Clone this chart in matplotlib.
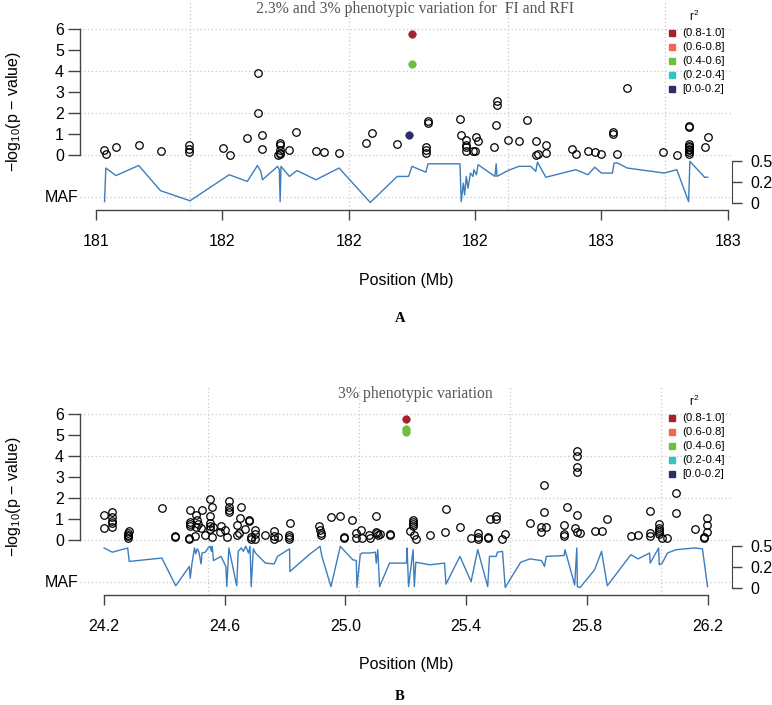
import matplotlib
matplotlib.use("Agg")
import matplotlib.pyplot as plt
from matplotlib.transforms import blended_transform_factory

plt.rcParams['font.family'] = ['Liberation Sans', 'DejaVu Sans']
plt.rcParams['mathtext.fontset'] = 'custom'
plt.rcParams['mathtext.rm'] = 'Liberation Sans'
plt.rcParams['mathtext.it'] = 'Liberation Sans:italic'

# ---------------- Panel A data ----------------
a_title = "2.3% and 3% phenotypic variation for  FI and RFI"
a_pos = [181.419, 181.423, 181.446, 181.501, 181.553,
         181.621, 181.621, 181.621, 181.701, 181.717,
         181.759, 181.785, 181.785, 181.793, 181.795,
         181.831, 181.837, 181.837, 181.837, 181.837, 181.836,
         181.859, 181.874, 181.922, 181.940, 181.977,
         182.041, 182.054, 182.114,
         182.183, 182.183, 182.183, 182.188, 182.188,
         182.265, 182.266, 182.278, 182.278, 182.278, 182.278,
         182.294, 182.299, 182.303, 182.307,
         182.346, 182.350, 182.353, 182.353,
         182.378, 182.405, 182.424, 182.444, 182.444, 182.449,
         182.468, 182.468, 182.531, 182.539, 182.568, 182.584, 182.600,
         182.628, 182.628, 182.637, 182.661, 182.747, 182.779,
         182.809, 182.809, 182.809, 182.809, 182.809, 182.809, 182.809, 182.809, 182.809,
         182.845, 182.852]
a_logp = [0.24, 0.06, 0.37, 0.48, 0.18,
          0.49, 0.27, 0.14, 0.33, 0.00,
          0.79, 3.90, 2.00, 0.94, 0.30,
          0.00, 0.57, 0.50, 0.24, 0.08, 0.03,
          0.22, 1.08, 0.18, 0.14, 0.11,
          0.57, 1.03, 0.52,
          0.37, 0.24, 0.11, 1.62, 1.51,
          1.73, 0.97, 0.71, 0.49, 0.40, 0.17,
          0.21, 0.21, 0.84, 0.67,
          0.37, 1.43, 2.59, 2.37,
          0.71, 0.68, 1.67, 0.68, 0.00, 0.05,
          0.46, 0.08, 0.27, 0.06, 0.21, 0.13, 0.06,
          1.08, 1.00, 0.03, 3.17, 0.13, 0.00,
          1.37, 1.35, 0.51, 0.45, 0.38, 0.30, 0.22, 0.14, 0.06,
          0.37, 0.86]
a_hit_pos = [182.150, 182.150, 182.142]
a_hit_logp = [5.76, 4.32, 0.94]
a_hit_r2 = [0.9, 0.5, 0.1]
a_maf_pos = [181.420, 181.423, 181.447, 181.501, 181.553, 181.623, 181.716, 181.759,
             181.783, 181.791, 181.795, 181.831, 181.835, 181.837, 181.839, 181.859,
             181.877, 181.922, 181.977, 182.051, 182.115, 182.142, 182.150, 182.183,
             182.188, 182.264, 182.267, 182.272, 182.275, 182.279, 182.283, 182.289,
             182.295, 182.297, 182.303, 182.307, 182.347, 182.350, 182.352, 182.378,
             182.404, 182.432, 182.444, 182.448, 182.468, 182.539, 182.568, 182.584,
             182.600, 182.626, 182.630, 182.638, 182.661, 182.749, 182.779, 182.807,
             182.810, 182.845, 182.852]
a_maf = [0.02, 0.42, 0.33, 0.45, 0.15, 0.03, 0.34, 0.26,
         0.45, 0.38, 0.28, 0.44, 0.40, 0.02, 0.44, 0.32,
         0.39, 0.28, 0.42, 0.01, 0.32, 0.32, 0.44, 0.37,
         0.47, 0.47, 0.02, 0.24, 0.10, 0.32, 0.18, 0.36,
         0.32, 0.40, 0.34, 0.46, 0.32, 0.47, 0.32, 0.39,
         0.44, 0.44, 0.38, 0.49, 0.31, 0.40, 0.34, 0.43,
         0.36, 0.36, 0.48, 0.48, 0.42, 0.36, 0.40, 0.02,
         0.50, 0.31, 0.31]
a_ticks = [181.4, 181.7, 182.0, 182.3, 182.6, 182.9]
a_ticklabels = ['181', '182', '182', '182', '183', '183']
a_vgrid = [181.623, 182.0, 182.377, 182.752]

# ---------------- Panel B data ----------------
b_title = "3% phenotypic variation"
b_pos = [24.201, 24.201, 24.228, 24.228, 24.228, 24.228, 24.228,
         24.283, 24.280, 24.280, 24.280, 24.280, 24.392, 24.437, 24.437,
         24.485, 24.485, 24.485, 24.485, 24.482, 24.482,
         24.505, 24.505, 24.509, 24.513, 24.502, 24.522, 24.524, 24.536,
         24.551, 24.551, 24.552, 24.552, 24.553, 24.559, 24.559, 24.562,
         24.588, 24.585, 24.601, 24.607, 24.614, 24.614, 24.614, 24.614,
         24.641, 24.640, 24.649, 24.654, 24.652, 24.667, 24.681, 24.681,
         24.688, 24.688, 24.701, 24.701, 24.701, 24.735, 24.765, 24.765, 24.765,
         24.777, 24.815, 24.814, 24.814, 24.814,
         24.914, 24.916, 24.919, 24.919, 24.951, 24.983, 24.994, 24.994,
         25.023, 25.036, 25.036, 25.052, 25.055, 25.077, 25.082,
         25.102, 25.102, 25.105, 25.109, 25.113, 25.146, 25.146,
         25.225, 25.225, 25.225, 25.225, 25.215, 25.226, 25.233, 25.280,
         25.329, 25.333, 25.379, 25.416, 25.438, 25.438, 25.438,
         25.471, 25.471, 25.477, 25.499, 25.499, 25.520, 25.529,
         25.611, 25.649, 25.649, 25.665, 25.659, 25.659,
         25.724, 25.724, 25.724, 25.733, 25.759,
         25.766, 25.766, 25.766, 25.766, 25.766, 25.766, 25.777,
         25.825, 25.848, 25.867, 25.945, 25.969, 26.007, 26.007, 26.007,
         26.037, 26.037, 26.037, 26.037, 26.037, 26.049, 26.066,
         26.095, 26.095, 26.156, 26.198, 26.198, 26.198, 26.186, 26.186]
b_logp = [1.21, 0.56, 1.33, 1.11, 0.92, 0.80, 0.62,
          0.43, 0.33, 0.25, 0.17, 0.10, 1.51, 0.19, 0.13,
          1.44, 0.87, 0.76, 0.67, 0.11, 0.06,
          1.17, 0.63, 0.95, 0.76, 0.20, 0.59, 1.43, 0.24,
          1.94, 1.14, 0.79, 0.67, 0.54, 1.56, 0.13, 0.63,
          0.67, 0.40, 0.48, 0.16, 1.86, 1.59, 1.43, 1.32,
          0.71, 0.24, 0.35, 1.56, 1.06, 0.51, 0.95, 0.90,
          0.16, 0.06, 0.48, 0.29, 0.06, 0.24, 0.44, 0.20, 0.03,
          0.16, 0.79, 0.24, 0.16, 0.06,
          0.67, 0.48, 0.35, 0.24, 1.11, 1.14, 0.16, 0.11,
          0.95, 0.32, 0.11, 0.48, 0.08, 0.24, 0.11,
          1.14, 0.40, 0.32, 0.24, 0.27, 0.27, 0.22,
          0.95, 0.87, 0.76, 0.67, 0.44, 0.24, 0.06, 0.24,
          0.37, 1.46, 0.63, 0.10, 0.32, 0.16, 0.03,
          0.16, 0.10, 0.98, 1.14, 0.98, 0.03, 0.29,
          0.79, 0.60, 0.37, 0.60, 2.62, 1.35,
          0.73, 0.27, 0.19, 1.59, 0.59,
          1.19, 4.24, 4.00, 3.49, 3.25, 0.40, 0.35,
          0.44, 0.44, 1.02, 0.19, 0.22, 1.40, 0.35, 0.19,
          0.76, 0.56, 0.48, 0.40, 0.29, 0.10, 0.10,
          2.24, 1.27, 0.51, 1.03, 0.71, 0.40, 0.16, 0.10]
b_hit_pos = [25.202, 25.202, 25.202]
b_hit_logp = [5.76, 5.29, 5.13]
b_hit_r2 = [0.9, 0.5, 0.5]
b_maf_pos = [24.201, 24.228, 24.279, 24.284, 24.392, 24.438, 24.483, 24.486, 24.492,
             24.500, 24.504, 24.509, 24.515, 24.522, 24.525, 24.536, 24.545, 24.552,
             24.556, 24.559, 24.563, 24.588, 24.604, 24.607, 24.614, 24.640, 24.645,
             24.655, 24.662, 24.670, 24.679, 24.684, 24.688, 24.695, 24.702, 24.735,
             24.764, 24.775, 24.815, 24.816, 24.883, 24.916, 24.922, 24.952, 24.983,
             25.024, 25.036, 25.038, 25.049, 25.055, 25.082, 25.099, 25.102, 25.107,
             25.113, 25.146, 25.202, 25.204, 25.209, 25.224, 25.228, 25.233, 25.280,
             25.328, 25.333, 25.379, 25.416, 25.438, 25.471, 25.477, 25.499, 25.503,
             25.520, 25.529, 25.580, 25.611, 25.649, 25.659, 25.665, 25.724, 25.727,
             25.759, 25.766, 25.768, 25.777, 25.825, 25.848, 25.867, 25.945, 25.969,
             26.007, 26.009, 26.037, 26.039, 26.049, 26.066, 26.095, 26.156, 26.182,
             26.199]
b_maf = [0.48, 0.43, 0.48, 0.32, 0.36, 0.03, 0.26, 0.12, 0.30,
         0.48, 0.41, 0.47, 0.43, 0.29, 0.42, 0.43, 0.48, 0.50,
         0.44, 0.50, 0.33, 0.38, 0.26, 0.02, 0.48, 0.03, 0.44,
         0.48, 0.44, 0.50, 0.42, 0.50, 0.02, 0.47, 0.42, 0.30,
         0.29, 0.38, 0.47, 0.20, 0.41, 0.50, 0.38, 0.02, 0.50,
         0.34, 0.33, 0.01, 0.40, 0.42, 0.42, 0.43, 0.30, 0.46,
         0.02, 0.30, 0.30, 0.48, 0.02, 0.46, 0.02, 0.31, 0.28,
         0.30, 0.05, 0.38, 0.08, 0.46, 0.02, 0.38, 0.38, 0.43,
         0.44, 0.01, 0.31, 0.35, 0.33, 0.26, 0.38, 0.39, 0.46,
         0.04, 0.48, 0.02, 0.01, 0.22, 0.44, 0.03, 0.40, 0.35,
         0.42, 0.30, 0.48, 0.28, 0.30, 0.42, 0.46, 0.48, 0.47,
         0.02]
b_ticks = [24.2, 24.6, 25.0, 25.4, 25.8, 26.2]
b_ticklabels = ['24.2', '24.6', '25.0', '25.4', '25.8', '26.2']
b_vgrid = [24.545, 25.045, 25.545, 26.045]

# ---------------- shared legend / MAF axis ----------------
r2_labels = ['(0.8-1.0]', '(0.6-0.8]', '(0.4-0.6]', '(0.2-0.4]', '[0.0-0.2]']
r2_colors = ['#A3232B', '#F0684F', '#6CBF3F', '#33C4C4', '#2C2E6C']
r2_bins = [0.8, 0.6, 0.4, 0.2, 0.0]
maf_ticks = [0.0, 0.25, 0.5]
maf_ticklabels = ['0', '0.2', '0.5']   # as printed (right edge of the figure)

MAF_BASE = -2.3
MAF_SCALE = 4.0

W, H = 772, 705
fig = plt.figure(figsize=(W / 100, H / 100), dpi=100)

AX_COL = '#444444'
GRID_COL = '#c8c8c8'
FS = 11.5


def r2_color(r):
    for b, c in zip(r2_bins, r2_colors):
        if r > b or (b == 0.0 and r >= 0):
            return c
    return r2_colors[-1]


def panel(off, title, pos, logp, hpos, hlogp, hr2, mpos, maf, ticks, tlabels, vgrid,
          letter, letter_y):
    ax = fig.add_axes([80 / W, 1 - (210 + off) / H, 651.7 / W, 210 / H])
    allx = list(pos) + list(hpos) + list(mpos)
    lo, hi = min(allx), max(allx)
    r = hi - lo
    ax.set_xlim(lo - 0.04 * r, hi + 0.04 * r)
    ax.set_ylim(-2.619, 7.381)
    ax.patch.set_alpha(0)

    for y in [-2, 0, 2, 4, 6]:
        ax.axhline(y, color=GRID_COL, lw=0.9, ls=(0, (1, 2)), zorder=0)
    for x in vgrid:
        ax.axvline(x, color=GRID_COL, lw=0.9, ls=(0, (1, 2)), zorder=0)

    ax.plot(mpos, [MAF_BASE + MAF_SCALE * m for m in maf], color='#3C7DBE', lw=1.0, zorder=2)
    ax.plot(pos, logp, ls='none', marker='o', ms=5.4, mfc='none', mec='black', mew=0.9, zorder=3)
    for x, y, rr in zip(hpos, hlogp, hr2):
        c = r2_color(rr)
        ax.plot([x], [y], ls='none', marker='o', ms=5.4, mfc=c, mec=c, mew=0.5, zorder=4)

    for s in ['top', 'right']:
        ax.spines[s].set_visible(False)
    ax.spines['left'].set_bounds(0, 6)
    ax.spines['bottom'].set_bounds(ticks[0], ticks[-1])
    for s in ['left', 'bottom']:
        ax.spines[s].set_color(AX_COL)
        ax.spines[s].set_linewidth(1.0)
    ax.set_yticks(range(0, 7))
    ax.set_xticks(ticks)
    ax.set_xticklabels(tlabels)
    ax.tick_params(axis='y', length=8.5, width=1.0, color=AX_COL, labelsize=FS, pad=3)
    ax.tick_params(axis='x', length=7.5, width=1.0, color=AX_COL, labelsize=FS, pad=10)

    tr = blended_transform_factory(ax.transAxes, ax.transData)
    ax.text(-0.002, -2.0, 'MAF', transform=tr, ha='right', va='center', fontsize=FS)

    ax2 = ax.twinx()
    ax2.set_ylim(ax.get_ylim())
    for s in ['top', 'left', 'bottom']:
        ax2.spines[s].set_visible(False)
    ax2.spines['right'].set_bounds(MAF_BASE, MAF_BASE + MAF_SCALE * maf_ticks[-1])
    ax2.spines['right'].set_color(AX_COL)
    ax2.set_yticks([MAF_BASE + MAF_SCALE * t for t in maf_ticks])
    ax2.set_yticklabels(maf_ticklabels)
    ax2.tick_params(axis='y', length=7, width=1.0, color=AX_COL, labelsize=FS, pad=6.5)

    # legend
    for i, (lab, col) in enumerate(zip(r2_labels, r2_colors)):
        yy = 5.8 - 0.667 * i
        ax.plot([0.908], [yy], transform=tr, marker='s', ms=3.8, color=col, ls='none', clip_on=False)
        ax.text(0.924, yy, lab, transform=tr, ha='left', va='center', fontsize=8.2)
    ax.text(0.943, 6.62, r'r$^2$', transform=tr, ha='center', va='center', fontsize=8.5)

    fig.text(415 / W, 1 - (9 + off) / H, title, ha='center', va='center',
             family='Liberation Serif', fontsize=11.3, color='#555555')
    fig.text(406 / W, 1 - (280 + off) / H, 'Position (Mb)', ha='center', va='center', fontsize=FS)
    fig.text(400 / W, 1 - letter_y / H, letter, ha='center', va='center',
             family='Liberation Serif', fontweight='bold', fontsize=10.5)
    fig.text(14 / W, 1 - (112 + off) / H, '\u2212log$_{10}$(p \u2212 value)', rotation=90,
             ha='center', va='center', fontsize=FS)
    return ax


panel(0, a_title, a_pos, a_logp, a_hit_pos, a_hit_logp, a_hit_r2, a_maf_pos, a_maf,
      a_ticks, a_ticklabels, a_vgrid, 'A', 318)
panel(385, b_title, b_pos, b_logp, b_hit_pos, b_hit_logp, b_hit_r2, b_maf_pos, b_maf,
      b_ticks, b_ticklabels, b_vgrid, 'B', 697)

fig.savefig('out.png', dpi=100)
